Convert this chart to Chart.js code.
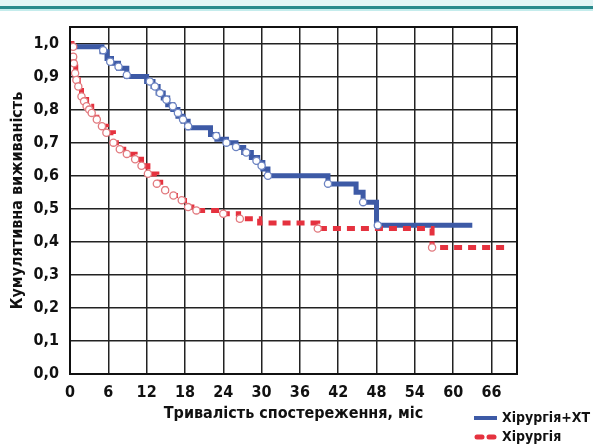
<!DOCTYPE html>
<html><head><meta charset="utf-8">
<script src="https://cdn.jsdelivr.net/npm/chart.js@4/dist/chart.umd.min.js"></script>
<style>html,body{margin:0;padding:0;background:#fff}#wrap{width:593px;height:446px;position:relative}</style>
</head><body><div id="wrap"><canvas id="c" width="593" height="446"></canvas></div>
<script>
// ---- data ----
const seriesNames = ['Хірургія+ХТ', 'Хірургія'];
const xAxisTitle = 'Тривалість спостереження, міс';
const yAxisTitle = 'Кумулятивна виживаність';

// Хірургія+ХТ step curve
const blueTimes = [0, 5.0, 5.8, 6.5, 7.6, 8.9, 12.0, 13.0, 13.8, 14.6, 15.3, 16.1, 16.9, 17.7, 18.5, 22.0, 23.0, 24.5, 26.0, 27.2, 28.4, 29.4, 30.2, 31.0, 40.4, 44.8, 45.9, 48.0, 63.0];
const blueSurv  = [0.99, 0.975, 0.955, 0.94, 0.925, 0.90, 0.885, 0.87, 0.85, 0.835, 0.815, 0.80, 0.78, 0.765, 0.745, 0.725, 0.71, 0.70, 0.685, 0.67, 0.655, 0.64, 0.62, 0.60, 0.575, 0.55, 0.52, 0.45, 0.45];
// Хірургія+ХТ censored marks
const blueCensTimes = [5.2, 6.3, 7.6, 8.9, 12.5, 13.3, 14.1, 15.1, 16.1, 16.9, 17.7, 18.5, 22.9, 24.5, 26.0, 27.6, 29.2, 30.0, 31.0, 40.4, 45.9, 48.2];
const blueCensSurv  = [0.98, 0.945, 0.93, 0.905, 0.885, 0.87, 0.85, 0.83, 0.81, 0.79, 0.77, 0.75, 0.72, 0.70, 0.687, 0.67, 0.645, 0.63, 0.60, 0.576, 0.52, 0.45];

// Хірургія step curve
const redTimes = [0, 0.3, 0.6, 0.9, 1.3, 1.8, 2.6, 3.4, 4.2, 5.0, 5.7, 6.8, 7.8, 8.9, 10.2, 11.2, 12.2, 13.6, 14.9, 16.2, 17.5, 18.5, 19.8, 23.5, 26.4, 29.7, 38.8, 56.7, 68.8];
const redSurv  = [1.0, 0.97, 0.93, 0.90, 0.87, 0.84, 0.81, 0.79, 0.77, 0.75, 0.73, 0.70, 0.68, 0.665, 0.65, 0.63, 0.605, 0.58, 0.555, 0.54, 0.525, 0.505, 0.495, 0.485, 0.47, 0.457, 0.44, 0.383, 0.383];
// Хірургія censored marks
const redCensTimes = [0.5, 0.5, 0.6, 0.8, 1.0, 1.3, 1.8, 2.2, 2.6, 3.0, 3.4, 4.2, 5.0, 5.7, 6.8, 7.8, 8.9, 10.2, 11.2, 12.2, 13.6, 14.9, 16.2, 17.5, 18.5, 19.8, 24.0, 26.6, 38.8, 56.7];
const redCensSurv  = [0.99, 0.96, 0.94, 0.91, 0.89, 0.87, 0.84, 0.825, 0.81, 0.80, 0.79, 0.77, 0.75, 0.73, 0.70, 0.68, 0.666, 0.65, 0.63, 0.606, 0.576, 0.556, 0.54, 0.526, 0.505, 0.495, 0.485, 0.47, 0.44, 0.383];

const xTickStep = 6;
const yTickStep = 0.1;

// ---- styles ----
const BLUE = '#3d5aa6';
const RED = '#e5323f';
const FONT = "'DejaVu Sans Condensed', 'Liberation Sans Narrow', Roboto, sans-serif";

const pts = (xs, ys) => xs.map((x, i) => ({x, y: ys[i]}));

const framePlugin = {
  id: 'frame',
  beforeDraw(chart) {
    const c = chart.ctx;
    c.save();
    c.fillStyle = '#ffffff';
    c.fillRect(0, 0, chart.width, chart.height);
    c.fillStyle = '#e3f5f5';
    c.fillRect(0, 0, chart.width, 6);
    c.fillStyle = '#2a8a8c';
    c.fillRect(0, 6, chart.width, 3);
    c.fillStyle = '#c4ecec';
    c.fillRect(0, 9, chart.width, 2);
    c.restore();
  },
  afterDatasetsDraw(chart) {
    const a = chart.chartArea, c = chart.ctx;
    c.save();
    c.strokeStyle = '#111';
    c.lineWidth = 2;
    c.strokeRect(a.left, a.top, a.right - a.left, a.bottom - a.top);
    c.restore();
  },
  afterDraw(chart) {
    const c = chart.ctx;
    c.save();
    const x0 = 474, x1 = 497, y1 = 418, y2 = 437;
    c.strokeStyle = chart.data.datasets[2].borderColor;
    c.lineWidth = 4;
    c.beginPath(); c.moveTo(x0, y1); c.lineTo(x1, y1); c.stroke();
    c.strokeStyle = chart.data.datasets[3].borderColor;
    c.lineWidth = 5;
    c.lineCap = 'round';
    c.beginPath(); c.moveTo(x0 + 3, y2); c.lineTo(x0 + 8, y2); c.stroke();
    c.beginPath(); c.moveTo(x0 + 15, y2); c.lineTo(x0 + 20, y2); c.stroke();
    c.fillStyle = '#111';
    c.font = "bold 14px " + FONT;
    c.textBaseline = 'middle';
    c.fillText(chart.data.datasets[2].label, 502, y1);
    c.fillText(chart.data.datasets[3].label, 502, y2);
    c.restore();
  }
};

new Chart(document.getElementById('c'), {
  type: 'line',
  data: {
    datasets: [
      { label: seriesNames[0] + ' (цензуровані)', data: pts(blueCensTimes, blueCensSurv), showLine: false,
        pointRadius: 3.6, pointBackgroundColor: '#ffffff', pointBorderColor: '#6d84c2', pointBorderWidth: 1.3, order: 0 },
      { label: seriesNames[1] + ' (цензуровані)', data: pts(redCensTimes, redCensSurv), showLine: false,
        pointRadius: 3.6, pointBackgroundColor: '#ffffff', pointBorderColor: '#e27a7f', pointBorderWidth: 1.3, order: 1 },
      { label: seriesNames[0], data: pts(blueTimes, blueSurv), stepped: 'before', borderColor: BLUE,
        borderWidth: 5, pointRadius: 0, fill: false, order: 3 },
      { label: seriesNames[1], data: pts(redTimes, redSurv), stepped: 'before', borderColor: RED,
        borderWidth: 5, borderDash: [8, 6], pointRadius: 0, fill: false, order: 2 }
    ]
  },
  options: {
    responsive: false,
    animation: false,
    devicePixelRatio: 1,
    layout: { padding: { left: 0, top: 27, right: 76, bottom: 0 } },
    plugins: { legend: { display: false }, tooltip: { enabled: false } },
    scales: {
      x: {
        type: 'linear', min: 0, max: 70,
        afterFit: s => { s.height = 72; },
        ticks: { stepSize: xTickStep, includeBounds: false, padding: 9, color: '#111',
                 font: { family: FONT, size: 16, weight: 'bold' }, maxRotation: 0 },
        grid: { color: '#222', lineWidth: 1.5, drawTicks: false },
        border: { color: '#111', width: 2 },
        title: { display: true, text: xAxisTitle, color: '#111',
                 font: { family: FONT, size: 16, weight: 'bold' }, padding: { top: 2, bottom: 23 } }
      },
      y: {
        min: 0, max: 1.05,
        afterFit: s => { s.width = 70; },
        ticks: { stepSize: yTickStep, includeBounds: false, padding: 11, color: '#111',
                 font: { family: FONT, size: 16, weight: 'bold' },
                 callback: v => v.toFixed(1).replace('.', ',') },
        grid: { color: '#222', lineWidth: 1.5, drawTicks: false },
        border: { color: '#111', width: 2 },
        title: { display: true, text: yAxisTitle, color: '#111',
                 font: { family: FONT, size: 16, weight: 'bold' }, padding: { top: 8, bottom: 0 } }
      }
    }
  },
  plugins: [framePlugin]
});
</script></body></html>
